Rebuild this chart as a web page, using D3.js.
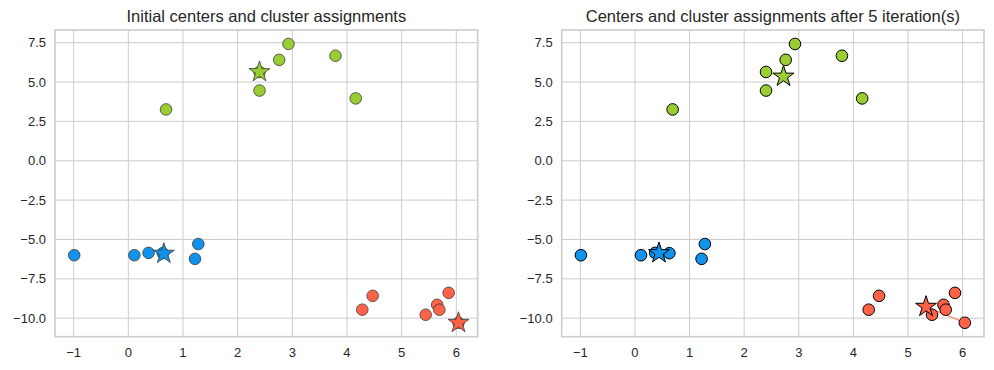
<!DOCTYPE html>
<html>
<head>
<meta charset="utf-8">
<script src="https://cdn.jsdelivr.net/npm/d3@7"></script>
<style>
  body { margin: 0; background: #fff; }
  svg { font-family: "Liberation Sans", Arial, sans-serif; }
  .grid line { stroke: #cccccc; stroke-width: 1; }
  .tick-label { fill: #262626; font-size: 13px; }
  .title { fill: #262626; font-size: 16.5px; }
</style>
</head>
<body>
<div id="chart"></div>
<script>
// data points (x, y) and their cluster index: 0 = green, 1 = blue, 2 = red
const pointsX = [0.69, 2.40, 2.40, 2.76, 2.93, 3.79, 4.16,
                 -0.99, 0.11, 0.37, 0.63, 1.28, 1.22,
                 4.28, 4.47, 5.44, 5.65, 5.69, 5.86, 6.04];
const pointsY = [3.26, 4.46, 5.64, 6.41, 7.42, 6.67, 3.96,
                 -6.00, -6.00, -5.85, -5.87, -5.29, -6.23,
                 -9.46, -8.58, -9.78, -9.15, -9.46, -8.39, -10.29];
const initialLabels = [0,0,0,0,0,0,0, 1,1,1,1,1,1, 2,2,2,2,2,2,2];
const finalLabels   = [0,0,0,0,0,0,0, 1,1,1,1,1,1, 2,2,2,2,2,2,2];

const initialCentersX = [2.40, 0.65, 6.04];
const initialCentersY = [5.64, -5.90, -10.29];
const finalCentersX = [2.72, 0.44, 5.33];
const finalCentersY = [5.35, -5.86, -9.27];

const clusterColors = ["#9acd32", "#1192ec", "#ff6347"];
const titles = ["Initial centers and cluster assignments",
                "Centers and cluster assignments after 5 iteration(s)"];
const xTicks = [-1, 0, 1, 2, 3, 4, 5, 6];
const yTicks = [7.5, 5.0, 2.5, 0.0, -2.5, -5.0, -7.5, -10.0];

const W = 994, H = 370;
const plotTop = 30, plotBottom = 336.7;
const panels = [
  {left: 55, right: 477.7, labels: initialLabels, cx: initialCentersX, cy: initialCentersY,
   edge: "#3a3a3a", edgeW: 0.8, trail: false},
  {left: 561.7, right: 984, labels: finalLabels, cx: finalCentersX, cy: finalCentersY,
   edge: "#000", edgeW: 1, trail: true}
];

const xExt = d3.extent(pointsX), yExt = d3.extent(pointsY.concat(initialCentersY, finalCentersY));
const xPad = (xExt[1] - xExt[0]) * 0.05, yPad = (yExt[1] - yExt[0]) * 0.05;

const svg = d3.select("#chart").append("svg").attr("width", W).attr("height", H);
const fmt = d3.format(".1f");
const minus = s => s.replace("-", "\u2212");

panels.forEach((p, pi) => {
  const x = d3.scaleLinear().domain([xExt[0] - xPad, xExt[1] + xPad]).range([p.left, p.right]);
  const y = d3.scaleLinear().domain([yExt[0] - yPad, yExt[1] + yPad]).range([plotBottom, plotTop]);
  const g = svg.append("g");

  // grid
  const grid = g.append("g").attr("class", "grid");
  grid.selectAll(".vx").data(xTicks).enter().append("line")
    .attr("x1", d => x(d)).attr("x2", d => x(d)).attr("y1", plotTop).attr("y2", plotBottom);
  grid.selectAll(".hy").data(yTicks).enter().append("line")
    .attr("x1", p.left).attr("x2", p.right).attr("y1", d => y(d)).attr("y2", d => y(d));

  // frame
  g.append("rect").attr("x", p.left).attr("y", plotTop)
    .attr("width", p.right - p.left).attr("height", plotBottom - plotTop)
    .attr("fill", "none").attr("stroke", "#cccccc").attr("stroke-width", 1.6);

  // tick labels
  g.selectAll(".xl").data(xTicks).enter().append("text")
    .attr("class", "tick-label").attr("x", d => x(d)).attr("y", plotBottom + 20)
    .attr("text-anchor", "middle").text(d => minus(String(d)));
  g.selectAll(".yl").data(yTicks).enter().append("text")
    .attr("class", "tick-label").attr("x", p.left - 9).attr("y", d => y(d) + 4.5)
    .attr("text-anchor", "end").text(d => minus(fmt(d)));

  g.append("text").attr("class", "title")
    .attr("x", (p.left + p.right) / 2).attr("y", 22)
    .attr("text-anchor", "middle").text(titles[pi]);

  // center movement trails
  if (p.trail) {
    g.selectAll(".trail").data(clusterColors).enter().append("line")
      .attr("x1", (c, i) => x(initialCentersX[i])).attr("y1", (c, i) => y(initialCentersY[i]))
      .attr("x2", (c, i) => x(finalCentersX[i])).attr("y2", (c, i) => y(finalCentersY[i]))
      .attr("stroke", c => c).attr("stroke-width", 1);
  }

  g.selectAll(".pt").data(pointsX).enter().append("circle")
    .attr("cx", d => x(d)).attr("cy", (d, i) => y(pointsY[i])).attr("r", 5.8)
    .attr("fill", (d, i) => clusterColors[p.labels[i]])
    .attr("stroke", p.edge).attr("stroke-width", p.edgeW);

  const star = d3.symbol().type(d3.symbolStar).size(136);
  g.selectAll(".ctr").data(p.cx).enter().append("path")
    .attr("d", star)
    .attr("transform", (d, i) => `translate(${x(d)},${y(p.cy[i])})`)
    .attr("fill", (d, i) => clusterColors[i])
    .attr("stroke", p.edge).attr("stroke-width", p.edgeW);
});
</script>
</body>
</html>
